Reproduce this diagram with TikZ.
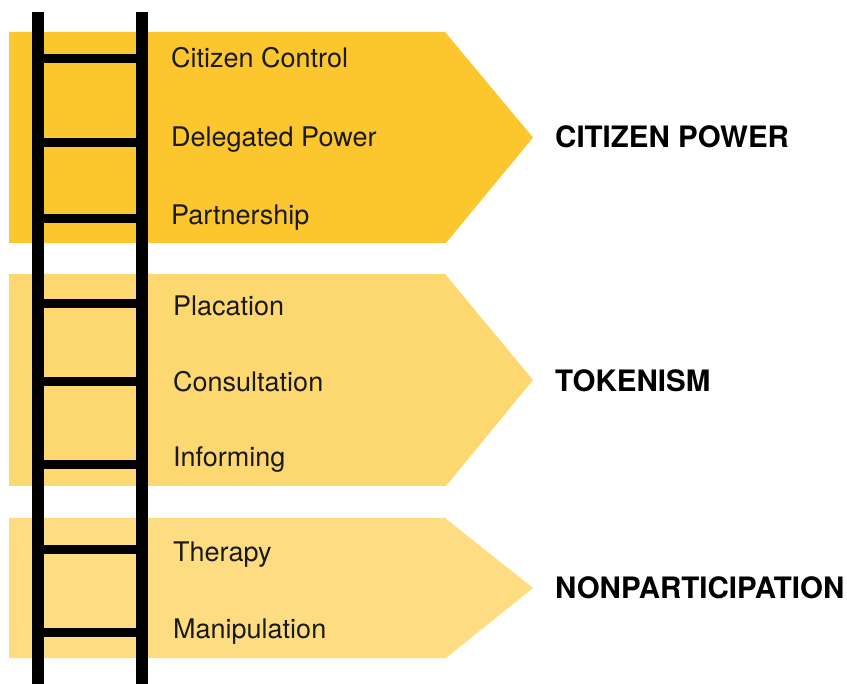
\documentclass[tikz,border=0pt]{standalone}
\usepackage{fontspec}
\setmainfont{TeX Gyre Heros}
\usepackage{tikz}
\usetikzlibrary{
    positioning
}

\definecolor{powerfill}{HTML}{FCC62F}
\definecolor{tokenfill}{HTML}{FDD770}
\definecolor{nonfill}{HTML}{FEDC82}
\definecolor{ink}{HTML}{1A1A1A}

\begin{document}
\begin{tikzpicture}[
    x=1pt, y=-1pt,
    every node/.style={inner sep=0pt, text=ink},
    level/.style={font=\fontsize{27}{32}\selectfont, anchor=base west},
    group/.style={font=\fontsize{29.5}{34}\selectfont\bfseries, anchor=base west, text=black},
    rail/.style={line width=12pt, black},
    rungline/.style={line width=9pt, black}
]
\useasboundingbox (0,0) rectangle (847,684);

% ================= BANDS =================
\fill[powerfill] (9,32) -- (445,32) -- (533,137.5) -- (446,243) -- (9,243) -- cycle;
\fill[tokenfill] (9,274) -- (445,274) -- (533,380) -- (446,486) -- (9,486) -- cycle;
\fill[nonfill] (9,518) -- (445,518) -- (533,588) -- (446,658) -- (9,658) -- cycle;

% ================= LADDER =================
\draw[rail] (38,12) -- (38,690);
\draw[rail] (142,12) -- (142,690);
\foreach \y in {58.5, 143, 218.5, 303.5, 381.5, 464.5, 549.5, 632.5}
    \draw[rungline] (44,\y) -- (136,\y);

% ================= RUNGS =================
\node[level] (control) at (171,68) {Citizen Control};
\node[level] (delegated) at (171,147) {Delegated Power};
\node[level] (partner) at (171,225) {Partnership};

\node[level] (placation) at (173,316) {Placation};
\node[level] (consult) at (173,392) {Consultation};
\node[level] (inform) at (173,467) {Informing};

\node[level] (therapy) at (173,562) {Therapy};
\node[level] (manip) at (173,638) {Manipulation};

% ================= GROUPS =================
\node[group] (power) at (555,148) {CITIZEN POWER};
\node[group] (token) at (555,392) {TOKENISM};
\node[group] (nonpart) at (555,598) {NONPARTICIPATION};

\end{tikzpicture}
\end{document}
